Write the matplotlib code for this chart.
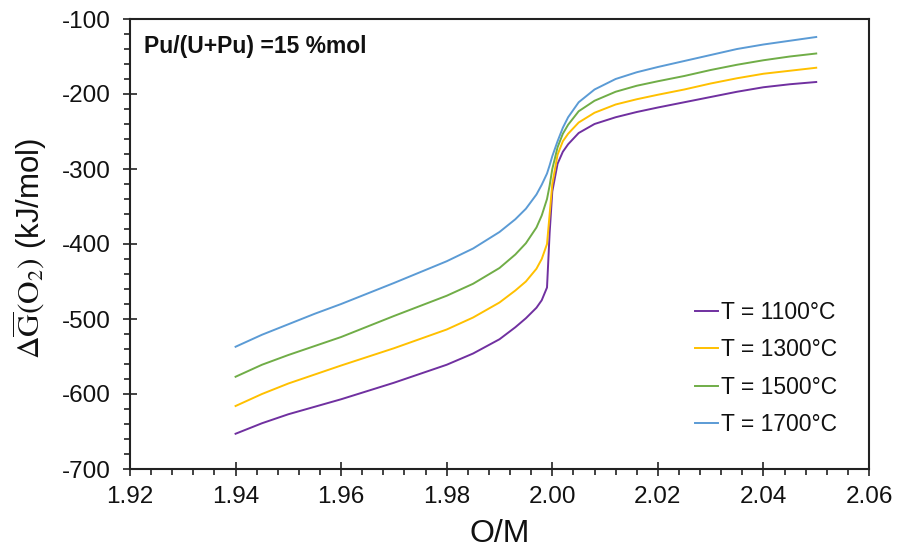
import matplotlib
matplotlib.use("Agg")
import matplotlib.pyplot as plt
from matplotlib.ticker import MultipleLocator, FormatStrFormatter

plt.rcParams['font.family'] = ['Liberation Sans', 'DejaVu Sans']
plt.rcParams['mathtext.fontset'] = 'stix'
plt.rcParams['axes.unicode_minus'] = False

om = [1.94, 1.945, 1.95, 1.955, 1.96, 1.97, 1.98, 1.985, 1.99, 1.993, 1.995,
      1.997, 1.998, 1.999, 1.9995, 2.000, 2.001, 2.002, 2.003, 2.005, 2.008,
      2.012, 2.016, 2.02, 2.025, 2.03, 2.035, 2.04, 2.045, 2.05]

g_1100 = [-653, -639, -627, -617, -607, -585, -561, -546, -527, -511, -499,
          -485, -475, -458, -385, -330, -293, -277, -267, -252, -240,
          -231, -224, -218, -211, -204, -197, -191, -187, -184]
g_1300 = [-616, -600, -586, -574, -562, -539, -514, -498, -478, -462, -450,
          -433, -420, -400, -360, -320, -281, -263, -253, -238, -225,
          -214, -207, -201, -194, -186, -179, -173, -169, -165]
g_1500 = [-577, -561, -548, -536, -524, -496, -469, -453, -432, -414, -399,
          -378, -362, -340, -322, -300, -271, -253, -241, -223, -209,
          -197, -189, -183, -176, -168, -161, -155, -150, -146]
g_1700 = [-537, -521, -507, -493, -480, -452, -423, -406, -384, -367, -353,
          -334, -321, -306, -295, -283, -263, -245, -231, -211, -194,
          -180, -171, -164, -156, -148, -140, -134, -129, -124]

series = [("T = 1100°C", g_1100, "#7030A0"),
          ("T = 1300°C", g_1300, "#FFC000"),
          ("T = 1500°C", g_1500, "#70AD47"),
          ("T = 1700°C", g_1700, "#5B9BD5")]

fig = plt.figure(figsize=(8.99, 5.56), dpi=100)
ax = fig.add_axes([130/899, 1-469/556, 739/899, 450/556])

for label, vals, col in series:
    ax.plot(om, vals, color=col, lw=1.4, label=label)

ax.set_xlim(1.92, 2.06)
ax.set_ylim(-700, -100)
ax.xaxis.set_major_locator(MultipleLocator(0.02))
ax.xaxis.set_minor_locator(MultipleLocator(0.004))
ax.yaxis.set_major_locator(MultipleLocator(100))
ax.yaxis.set_minor_locator(MultipleLocator(20))
ax.xaxis.set_major_formatter(FormatStrFormatter('%.2f'))

for s in ax.spines.values():
    s.set_linewidth(1.5)
    s.set_color('#222222')

ax.tick_params(which='major', direction='inout', length=10, width=1.2,
               labelsize=17.5, pad=7, colors='#222222', labelcolor='#111111')
ax.tick_params(which='minor', direction='out', length=4.5, width=1.2,
               colors='#222222')
ax.tick_params(axis='y', which='major', pad=9)

ax.set_xlabel('O/M', fontsize=23, color='#111111')
ax.xaxis.set_label_coords(0.5, -0.112)
ax.set_ylabel(r'$\Delta\overline{\mathrm{G}}(\mathrm{O}_2)$ (kJ/mol)', fontsize=22.5,
              color='#111111')
ax.yaxis.set_label_coords(-0.11, 0.49)

ax.text(0.019, 0.94, 'Pu/(U+Pu) =15 %mol', transform=ax.transAxes,
        fontsize=16.5, fontweight='bold', va='center', ha='left', color='#111111')

leg = ax.legend(loc='upper left', bbox_to_anchor=((695-130)/739, (469-301)/450),
                frameon=False, fontsize=16.5, handlelength=1.0, handletextpad=0.15,
                labelspacing=0.63, borderpad=0, borderaxespad=0,
                labelcolor='#111111')

fig.savefig('out.png', dpi=100)
